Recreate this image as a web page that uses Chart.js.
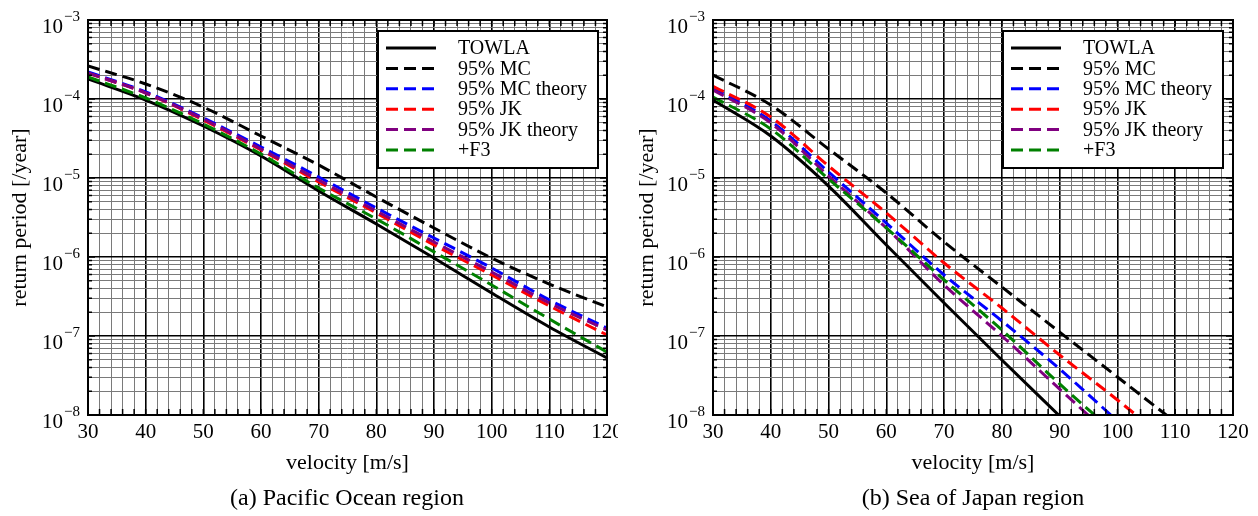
<!DOCTYPE html>
<html>
<head>
<meta charset="utf-8">
<script src="https://cdn.jsdelivr.net/npm/chart.js@4.4.1/dist/chart.umd.min.js"></script>
<style>
  html, body { margin: 0; padding: 0; background: #fff; }
  body { width: 1258px; height: 516px; position: relative; overflow: hidden; }
  canvas { position: absolute; top: 0; }
  #pacificChart { left: 0; }
  #japanChart { left: 629px; }
  .caption {
    position: absolute; top: 484px; line-height: 28px;
    font: 24px 'Liberation Serif', 'Times New Roman', serif; color: #000;
    transform: translateX(-50%); white-space: nowrap;
  }
</style>
</head>
<body>
<canvas id="pacificChart" width="618" height="516"></canvas>
<canvas id="japanChart" width="629" height="516"></canvas>
<div class="caption" style="left:347px">(a) Pacific Ocean region</div>
<div class="caption" style="left:973px">(b) Sea of Japan region</div>
<script>
const velocity = [30, 40, 50, 60, 70, 80, 90, 100, 110, 120];
const xTickLabels = [30, 40, 50, 60, 70, 80, 90, 100, 110, 120];
const yExponents = [-8, -7, -6, -5, -4, -3];
const seriesLabels = ['TOWLA', '95% MC', '95% MC theory', '95% JK', '95% JK theory', '+F3'];

// (a) Pacific Ocean region
const pacificTowla    = [1.79e-4, 9.7e-5, 4.55e-5, 1.9e-5, 6.85e-6, 2.62e-6, 9.7e-7, 3.5e-7, 1.3e-7, 5.27e-8];
const pacificMc       = [2.62e-4, 1.55e-4, 7.9e-5, 3.4e-5, 1.46e-5, 5.75e-6, 2.33e-6, 9.7e-7, 4.55e-7, 2.33e-7];
const pacificMcTheory = [2.2e-4, 1.23e-4, 5.75e-5, 2.47e-5, 1.03e-5, 4.17e-6, 1.74e-6, 7.26e-7, 2.86e-7, 1.26e-7];
const pacificJk       = [2.13e-4, 1.19e-4, 5.42e-5, 2.26e-5, 8.9e-6, 3.61e-6, 1.42e-6, 5.92e-7, 2.4e-7, 1.03e-7];
const pacificJkTheory = [2.13e-4, 1.19e-4, 5.58e-5, 2.33e-5, 9.43e-6, 3.82e-6, 1.55e-6, 6.46e-7, 2.62e-7, 1.19e-7];
const pacificF3       = [1.9e-4, 1.03e-4, 4.83e-5, 2.01e-5, 7.47e-6, 3.03e-6, 1.16e-6, 4.42e-7, 1.64e-7, 6.27e-8];

// (b) Sea of Japan region
const japanTowla    = [9.7e-5, 3.4e-5, 7.9e-6, 1.42e-6, 2.62e-7, 4.97e-8, 9.7e-9, null, null, null];
const japanMc       = [2.01e-4, 8.4e-5, 2.33e-5, 6.46e-6, 1.55e-6, 4.17e-7, 1.12e-7, 3.03e-8, 8.15e-9, null];
const japanMcTheory = [1.38e-4, 5.27e-5, 1.19e-5, 2.69e-6, 5.92e-7, 1.55e-7, 3.82e-8, 8.4e-9, null, null];
const japanJk       = [1.45e-4, 5.92e-5, 1.42e-5, 3.61e-6, 8.4e-7, 2.26e-7, 5.75e-8, 1.55e-8, 3.9e-9, null];
const japanJkTheory = [1.3e-4, 4.97e-5, 1.06e-5, 2.33e-6, 4.42e-7, 1.0e-7, 2.13e-8, 4.55e-9, null, null];
const japanF3       = [1.06e-4, 4.17e-5, 9.71e-6, 2.33e-6, 5.12e-7, 1.19e-7, 2.47e-8, 5.58e-9, null, null];

const seriesStyles = [
    { color: '#000000', dash: [] },
    { color: '#000000', dash: [12, 6] },
    { color: '#0000ff', dash: [12, 6] },
    { color: '#ff0000', dash: [12, 6] },
    { color: '#800080', dash: [12, 6] },
    { color: '#008000', dash: [12, 6] },
];

const SERIF = "'Liberation Serif', 'Times New Roman', serif";

const isDecade = v => Math.abs(Math.log10(v) - Math.round(Math.log10(v))) < 1e-6;

// frame, inward ticks, boxed legend and 10^n labels
const paperStyle = {
    id: 'paperStyle',
    afterDatasetsDraw(chart, args, opts) {
        const { ctx, chartArea: a, scales } = chart;
        ctx.save();
        ctx.strokeStyle = '#000';
        ctx.lineWidth = 1.5;
        ctx.beginPath();
        scales.x.ticks.forEach(t => {
            const px = scales.x.getPixelForValue(t.value);
            ctx.moveTo(px, a.bottom); ctx.lineTo(px, a.bottom - 6);
            ctx.moveTo(px, a.top); ctx.lineTo(px, a.top + 6);
        });
        scales.y.ticks.forEach(t => {
            const py = scales.y.getPixelForValue(t.value);
            const len = isDecade(t.value) ? 7 : 4;
            ctx.moveTo(a.left, py); ctx.lineTo(a.left + len, py);
            ctx.moveTo(a.right, py); ctx.lineTo(a.right - len, py);
        });
        ctx.stroke();

        ctx.lineWidth = 2;
        ctx.strokeRect(a.left, a.top, a.right - a.left, a.bottom - a.top);

        // legend box
        const bw = 220, bh = 137;
        const bx = a.right - opts.legendRight - bw;
        const by = a.top + 11;
        ctx.fillStyle = '#fff';
        ctx.fillRect(bx, by, bw, bh);
        ctx.lineWidth = 2;
        ctx.strokeRect(bx, by, bw, bh);
        ctx.font = '20px ' + SERIF;
        ctx.textBaseline = 'middle';
        ctx.textAlign = 'left';
        chart.data.datasets.forEach((ds, i) => {
            const y = by + 17 + i * 20.4;
            ctx.strokeStyle = ds.borderColor;
            ctx.lineWidth = 3;
            ctx.setLineDash(ds.borderDash || []);
            ctx.beginPath();
            ctx.moveTo(bx + 8, y);
            ctx.lineTo(bx + 58, y);
            ctx.stroke();
            ctx.setLineDash([]);
            ctx.fillStyle = '#000';
            ctx.fillText(ds.label, bx + 80, y + 1);
        });
        ctx.restore();
    },
    afterDraw(chart) {
        const { ctx, chartArea: a, scales } = chart;
        ctx.save();
        ctx.fillStyle = '#000';
        ctx.textBaseline = 'alphabetic';
        yExponents.forEach(e => {
            const py = scales.y.getPixelForValue(Math.pow(10, e));
            const xEnd = a.left - 25;
            ctx.font = '21px ' + SERIF;
            ctx.textAlign = 'right';
            ctx.fillText('10', xEnd, py + 13);
            ctx.font = '15px ' + SERIF;
            ctx.textAlign = 'left';
            ctx.fillText('\u2212' + Math.abs(e), xEnd + 1, py + 1);
        });
        ctx.restore();
    }
};

function makeChart(canvasId, series, layout) {
    const datasets = series.map((values, i) => ({
        label: seriesLabels[i],
        data: values,
        borderColor: seriesStyles[i].color,
        borderDash: seriesStyles[i].dash,
        borderWidth: 3,
        pointRadius: 0,
        fill: false,
        cubicInterpolationMode: 'monotone',
        clip: 0,
        order: series.length - i
    }));

    return new Chart(document.getElementById(canvasId), {
        type: 'line',
        data: { labels: velocity, datasets },
        options: {
            responsive: false,
            animation: false,
            parsing: { xAxisKey: undefined },
            layout: { padding: { top: 20, right: layout.rightPad, left: 0, bottom: 0 } },
            plugins: {
                legend: { display: false },
                tooltip: { enabled: false },
                paperStyle: { legendRight: layout.legendRight }
            },
            scales: {
                x: {
                    type: 'linear',
                    min: 30,
                    max: 120,
                    afterBuildTicks: scale => {
                        const ticks = [];
                        for (let v = 30; v <= 120; v += 2) ticks.push({ value: v });
                        scale.ticks = ticks;
                    },
                    afterFit: scale => {
                        scale.height = 101;
                        scale.paddingLeft = 0;
                        scale.paddingRight = 0;
                    },
                    border: { display: false },
                    grid: {
                        drawTicks: false,
                        color: c => (c.tick && c.tick.value % 10 === 0) ? '#000' : '#7a7a7a',
                        lineWidth: c => (c.tick && c.tick.value % 10 === 0) ? 1.6 : 1
                    },
                    ticks: {
                        autoSkip: false,
                        maxRotation: 0,
                        padding: 5,
                        color: '#000',
                        font: { family: SERIF, size: 21 },
                        callback: v => xTickLabels.includes(v) ? String(v) : ''
                    },
                    title: {
                        display: true,
                        text: 'velocity [m/s]',
                        color: '#000',
                        font: { family: SERIF, size: 22 },
                        padding: { top: 0, bottom: 40 }
                    }
                },
                y: {
                    type: 'logarithmic',
                    min: 1e-8,
                    max: 1e-3,
                    afterBuildTicks: scale => {
                        const ticks = [];
                        yExponents.forEach(e => {
                            for (let m = 1; m <= 9; m++) {
                                const v = m * Math.pow(10, e);
                                if (v <= 1e-3 * 1.0001) ticks.push({ value: v });
                            }
                        });
                        scale.ticks = ticks;
                    },
                    afterFit: scale => {
                        scale.width = layout.yWidth;
                        scale.paddingTop = 0;
                        scale.paddingBottom = 0;
                    },
                    border: { display: false },
                    grid: {
                        drawTicks: false,
                        color: c => (c.tick && isDecade(c.tick.value)) ? '#000' : '#7a7a7a',
                        lineWidth: c => (c.tick && isDecade(c.tick.value)) ? 1.6 : 1
                    },
                    ticks: { display: false },
                    title: {
                        display: true,
                        text: 'return period [/year]',
                        color: '#000',
                        font: { family: SERIF, size: 22 },
                        padding: { top: layout.yTitlePad, bottom: 0 }
                    }
                }
            }
        },
        plugins: [paperStyle]
    });
}

makeChart('pacificChart',
    [pacificTowla, pacificMc, pacificMcTheory, pacificJk, pacificJkTheory, pacificF3],
    { rightPad: 11, yWidth: 88, yTitlePad: 7, legendRight: 9 });

makeChart('japanChart',
    [japanTowla, japanMc, japanMcTheory, japanJk, japanJkTheory, japanF3],
    { rightPad: 25, yWidth: 84, yTitlePad: 5, legendRight: 10 });
</script>
</body>
</html>
